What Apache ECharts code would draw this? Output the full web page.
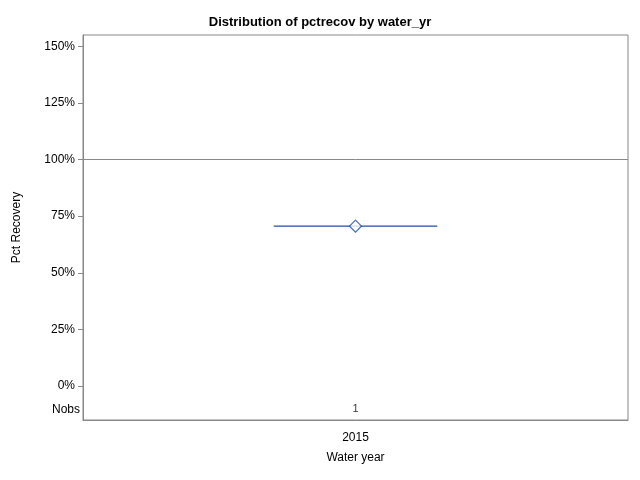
<!DOCTYPE html>
<html><head><meta charset="utf-8">
<script src="https://cdn.jsdelivr.net/npm/echarts@6/dist/echarts.min.js"></script>
<style>html,body{margin:0;padding:0;background:#fff}#c{width:640px;height:480px}</style>
</head><body><div id="c"></div>
<script>
const categories = ['2015'];
const meanValues = [70.6];
const nobs = [1];
const yTicks = [0, 25, 50, 75, 100, 125, 150];
const refLine = 100;
const blue = '#1F4FA8';
const chart = echarts.init(document.getElementById('c'));
chart.setOption({
  animation: false,
  title: { text: 'Distribution of pctrecov by water_yr', left: 'center', top: 11,
    textStyle: { fontFamily: 'Arial, Liberation Sans', fontSize: 13, fontWeight: 'bold', color: '#000' } },
  grid: { left: 83, right: 12, top: 35, bottom: 60, show: true, borderColor: '#888', borderWidth: 1 },
  xAxis: { type: 'category', data: categories, name: 'Water year', nameLocation: 'middle', nameGap: 32,
    nameTextStyle: { fontFamily: 'Arial, Liberation Sans', fontSize: 12, color: '#000' },
    axisLine: { onZero: false, lineStyle: { color: '#888' } }, axisTick: { show: false },
    axisLabel: { fontFamily: 'Arial, Liberation Sans', fontSize: 12, color: '#000', margin: 12 } },
  yAxis: { type: 'value', min: -15, max: 155, name: 'Pct Recovery', nameLocation: 'middle', nameGap: 60,
    nameTextStyle: { fontFamily: 'Arial, Liberation Sans', fontSize: 12, color: '#000' },
    splitLine: { show: false },
    axisLine: { show: true, lineStyle: { color: '#888' } },
    axisTick: { show: true, customValues: yTicks, lineStyle: { color: '#888' } },
    axisLabel: { customValues: yTicks, formatter: v => v + '%', fontFamily: 'Arial, Liberation Sans', fontSize: 12, color: '#000' } },
  graphic: [{ type: 'text', left: 52, top: 404, style: { text: 'Nobs', font: '12px Arial, Liberation Sans', fill: '#000' } }],
  series: [
    { type: 'custom', data: meanValues.map((v, i) => [i, v]), encode: { x: 0, y: 1 },
      renderItem: (params, api) => {
        const p = api.coord([api.value(0), api.value(1)]);
        const w = api.size([1, 0])[0] * 0.15;
        return { type: 'line', shape: { x1: p[0] - w, y1: p[1], x2: p[0] + w, y2: p[1] }, style: { stroke: blue, lineWidth: 1.2 } };
      },
      markLine: { silent: true, symbol: 'none', label: { show: false }, lineStyle: { color: '#888', type: 'solid', width: 1 }, data: [{ yAxis: refLine }] } },
    { type: 'scatter', data: meanValues, symbol: 'diamond', symbolSize: 12,
      itemStyle: { color: '#fff', borderColor: blue, borderWidth: 1.3 } },
    { type: 'scatter', data: nobs.map(() => -10), symbolSize: 0,
      label: { show: true, position: 'inside', formatter: p => String(nobs[p.dataIndex]), fontFamily: 'Arial, Liberation Sans', fontSize: 11, color: '#000' } }
  ]
});
</script></body></html>
